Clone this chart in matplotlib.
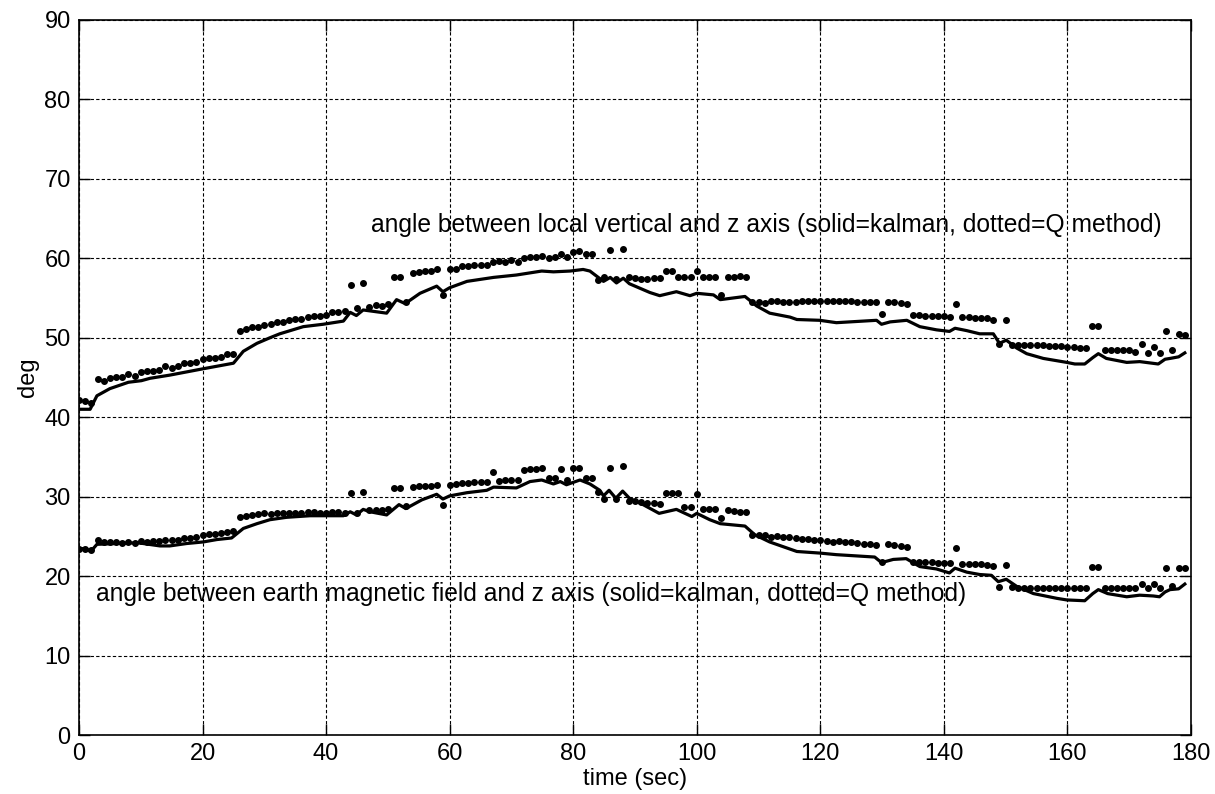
import numpy as np
import matplotlib
matplotlib.use("Agg")
import matplotlib.pyplot as plt

# Q-method samples, one per second (t = 0..179)
q_time = np.arange(0, 180)
q_vert = [42.2, 42.1, 41.8, 44.8, 44.6, 45.0, 45.1, 45.1, 45.4, 45.2,
          45.7, 45.8, 45.8, 45.9, 46.4, 46.2, 46.5, 46.8, 46.8, 46.9,
          47.3, 47.5, 47.5, 47.6, 47.9, 47.9, 50.9, 51.1, 51.3, 51.4,
          51.6, 51.7, 52.0, 52.0, 52.2, 52.4, 52.4, 52.6, 52.8, 52.8,
          52.9, 53.2, 53.2, 53.4, 56.6, 53.7, 56.9, 53.9, 54.1, 54.0,
          54.3, 57.6, 57.6, 54.5, 58.1, 58.3, 58.4, 58.4, 58.7, 55.4,
          58.7, 58.7, 59.0, 59.0, 59.2, 59.2, 59.2, 59.5, 59.7, 59.5,
          59.8, 59.6, 60.0, 60.2, 60.2, 60.3, 60.0, 60.2, 60.6, 60.2,
          60.8, 60.9, 60.5, 60.5, 57.3, 57.6, 61.0, 57.4, 61.2, 57.6,
          57.5, 57.4, 57.4, 57.5, 57.5, 58.4, 58.4, 57.6, 57.6, 57.6,
          58.4, 57.6, 57.6, 57.6, 55.4, 57.6, 57.7, 57.8, 57.6, 54.5,
          54.5, 54.4, 54.6, 54.6, 54.5, 54.5, 54.5, 54.6, 54.6, 54.6,
          54.6, 54.6, 54.6, 54.6, 54.6, 54.6, 54.5, 54.5, 54.5, 54.5,
          53.0, 54.5, 54.5, 54.4, 54.3, 52.9, 52.9, 52.8, 52.8, 52.8,
          52.8, 52.6, 54.3, 52.6, 52.6, 52.5, 52.5, 52.5, 52.3, 49.2,
          52.3, 49.1, 49.1, 49.1, 49.1, 49.1, 49.1, 49.0, 49.0, 49.0,
          48.9, 48.8, 48.7, 48.7, 51.5, 51.5, 48.5, 48.5, 48.5, 48.5,
          48.5, 48.2, 49.2, 48.1, 48.8, 48.1, 50.8, 48.5, 50.5, 50.4]
q_mag = [23.4, 23.4, 23.3, 24.5, 24.3, 24.3, 24.3, 24.2, 24.3, 24.2,
         24.4, 24.3, 24.4, 24.4, 24.5, 24.5, 24.6, 24.8, 24.8, 24.9,
         25.2, 25.3, 25.3, 25.4, 25.6, 25.7, 27.5, 27.6, 27.7, 27.8,
         27.9, 27.8, 27.9, 27.9, 27.9, 28.0, 28.0, 28.1, 28.1, 28.0,
         28.0, 28.1, 28.1, 28.0, 30.5, 28.0, 30.6, 28.3, 28.3, 28.3,
         28.4, 31.1, 31.1, 28.8, 31.2, 31.3, 31.3, 31.3, 31.5, 29.0,
         31.5, 31.6, 31.7, 31.7, 31.8, 31.8, 31.9, 33.1, 32.0, 32.1,
         32.1, 32.1, 33.4, 33.5, 33.5, 33.6, 32.3, 32.4, 33.5, 32.1,
         33.6, 33.6, 32.4, 32.3, 30.6, 29.7, 33.6, 29.7, 33.8, 29.5,
         29.4, 29.3, 29.2, 29.2, 29.1, 30.5, 30.5, 30.4, 28.7, 28.7,
         30.3, 28.5, 28.4, 28.4, 27.3, 28.3, 28.2, 28.1, 28.1, 25.2,
         25.2, 25.2, 24.9, 25.0, 24.9, 24.9, 24.8, 24.7, 24.7, 24.6,
         24.5, 24.4, 24.3, 24.4, 24.3, 24.3, 24.2, 24.1, 24.1, 23.9,
         21.8, 24.0, 23.9, 23.8, 23.7, 21.8, 21.8, 21.8, 21.8, 21.7,
         21.6, 21.6, 23.5, 21.5, 21.5, 21.5, 21.5, 21.4, 21.3, 18.6,
         21.4, 18.6, 18.5, 18.5, 18.5, 18.5, 18.5, 18.5, 18.5, 18.5,
         18.5, 18.5, 18.5, 18.5, 21.1, 21.1, 18.5, 18.5, 18.5, 18.5,
         18.5, 18.5, 19.0, 18.5, 19.0, 18.5, 21.0, 18.8, 21.0, 21.0]

# Kalman estimates (read at the corners of the curve)
k_vert_t = [0, 1.8, 2.9, 5.0, 8.0, 10.1, 11.5, 14.7, 20.1, 25.0, 26.6, 28.8,
            30.9, 32.5, 36.3, 39.5, 42.8, 43.9, 44.9, 46.0, 49.8, 51.4, 52.8,
            55.2, 57.9, 58.9, 60.0, 62.8, 67.1, 70.8, 74.9, 76.8, 79.5, 81.6,
            82.7, 84.9, 86.0, 87.0, 88.1, 89.1, 92.4, 94.0, 96.7, 98.9, 100.0,
            102.7, 103.8, 107.8, 109.7, 111.8, 115.1, 116.2, 119.9, 122.6,
            129.1, 129.9, 131.3, 134.0, 136.1, 138.8, 140.9, 141.8, 143.7,
            145.8, 148.0, 149.0, 150.1, 151.8, 153.4, 156.1, 159.9, 161.2,
            162.8, 164.1, 165.0, 166.3, 169.6, 171.7, 174.7, 175.8, 176.6,
            178.0, 179.0]
k_vert = [41.0, 41.0, 42.7, 43.6, 44.4, 44.6, 44.9, 45.3, 46.1, 46.8, 48.3,
          49.3, 50.0, 50.5, 51.4, 51.7, 52.1, 53.2, 52.8, 53.5, 53.1, 54.8,
          54.3, 55.6, 56.5, 55.8, 56.3, 57.1, 57.6, 57.9, 58.4, 58.3, 58.4,
          58.6, 58.4, 57.1, 57.6, 56.9, 57.5, 56.8, 55.7, 55.3, 55.8, 55.3,
          55.6, 55.4, 54.8, 55.2, 54.0, 53.1, 52.6, 52.3, 52.2, 51.9, 52.2,
          51.7, 52.0, 52.2, 51.4, 51.0, 50.8, 51.2, 50.9, 50.5, 50.5, 49.3,
          49.7, 48.7, 48.0, 47.4, 46.9, 46.7, 46.7, 47.5, 48.0, 47.4, 46.9,
          47.0, 46.7, 47.3, 47.4, 47.6, 48.1]

k_mag_t = [0, 1.0, 1.9, 2.9, 6.2, 9.5, 13.1, 14.7, 17.4, 20.1, 22.3, 24.7,
           26.6, 28.8, 30.9, 33.6, 37.4, 42.8, 43.9, 44.9, 46.0, 47.1, 49.8,
           51.8, 52.9, 55.5, 57.9, 58.9, 60.0, 62.8, 66.0, 67.1, 70.8, 73.0,
           74.9, 76.8, 77.9, 78.9, 81.1, 82.7, 84.3, 84.9, 85.8, 86.9, 88.0,
           89.1, 91.3, 93.9, 96.7, 99.2, 100.0, 102.1, 103.8, 107.8, 109.4,
           111.8, 116.2, 119.9, 122.6, 128.8, 129.9, 131.8, 133.9, 136.1,
           138.8, 140.9, 141.8, 143.7, 145.8, 147.7, 148.8, 150.1, 151.8,
           154.5, 158.3, 159.9, 162.8, 164.1, 165.0, 166.5, 169.6, 171.7,
           173.9, 174.9, 175.8, 176.6, 178.0, 179.0]
k_mag = [23.4, 23.5, 23.1, 24.0, 24.1, 24.2, 23.8, 23.8, 24.1, 24.3, 24.6,
         24.8, 26.0, 26.6, 27.1, 27.4, 27.6, 27.6, 28.1, 27.7, 28.4, 28.1,
         27.7, 29.0, 28.5, 29.6, 30.3, 29.7, 30.1, 30.5, 30.8, 31.2, 31.1,
         31.9, 32.1, 31.6, 31.9, 31.5, 32.1, 31.6, 30.8, 30.1, 30.8, 29.8,
         30.7, 29.8, 29.0, 27.9, 28.4, 27.5, 27.9, 27.1, 26.6, 26.3, 25.2,
         24.3, 23.1, 22.9, 22.7, 22.4, 21.7, 22.1, 22.2, 21.2, 20.9, 20.4,
         21.0, 20.5, 20.2, 20.1, 19.3, 19.6, 18.7, 17.8, 17.2, 17.0, 16.9,
         17.8, 18.3, 17.8, 17.4, 17.6, 17.5, 17.4, 18.0, 18.3, 18.4, 19.0]

label_vert = "angle between local vertical and z axis (solid=kalman, dotted=Q method)"
label_mag = "angle between earth magnetic field and z axis (solid=kalman, dotted=Q method)"

plt.rcParams['font.family'] = ['Liberation Sans', 'DejaVu Sans']
plt.rcParams['font.size'] = 17

fig = plt.figure(figsize=(12.15, 7.94), dpi=100)
ax = fig.add_axes([79 / 1215, 1 - 735 / 794, 1112 / 1215, 715 / 794])

# Kalman (solid) and Q method (dots)
ax.plot(k_vert_t, k_vert, color='black', linewidth=2.3)
ax.plot(k_mag_t, k_mag, color='black', linewidth=2.3)
ax.plot(q_time, q_vert, linestyle='none', marker='o', markersize=4.0, color='black')
ax.plot(q_time, q_mag, linestyle='none', marker='o', markersize=4.0, color='black')

ax.text(47.3, 64.2, label_vert, ha='left', va='center', fontsize=17.7)
ax.text(2.7, 17.8, label_mag, ha='left', va='center', fontsize=17.7)

ax.set_xlim(0, 180)
ax.set_ylim(0, 90)
ax.set_xticks(np.arange(0, 181, 20))
ax.set_yticks(np.arange(0, 91, 10))
ax.grid(True, color='black', linestyle=(0, (3, 2)), linewidth=0.8)
ax.tick_params(direction='in', length=8, width=1, top=True, right=True, pad=6)
for s in ax.spines.values():
    s.set_linewidth(1.2)

ax.set_xlabel("time (sec)", labelpad=2)
ax.set_ylabel("deg", labelpad=4)

fig.savefig("out.png", dpi=100)
